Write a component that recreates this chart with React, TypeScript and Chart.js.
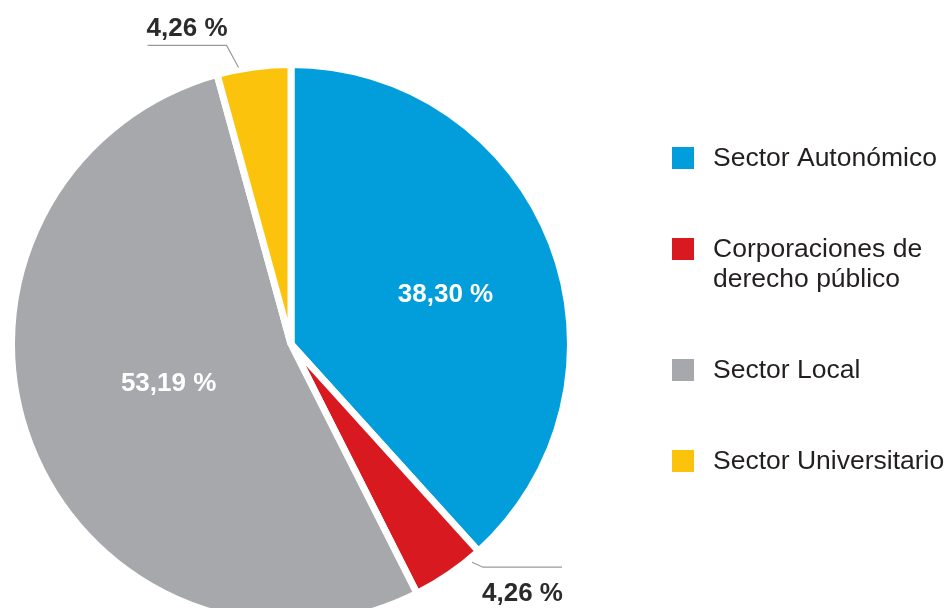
import React, { useEffect, useRef } from "react";
import { Chart, registerables } from "chart.js";

Chart.register(...registerables);

// ---- data ----
const categories = [
  "Sector Autonómico",
  "Corporaciones de derecho público",
  "Sector Local",
  "Sector Universitario",
];
const legendLines = [
  ["Sector Autonómico"],
  ["Corporaciones de", "derecho público"],
  ["Sector Local"],
  ["Sector Universitario"],
];
const values = [38.3, 4.26, 53.19, 4.26];
const valueLabels = ["38,30 %", "4,26 %", "53,19 %", "4,26 %"];
const colors = ["#029DDB", "#D8191F", "#A7A8AB", "#FCC30C"];

// ---- label placement (style) ----
type Place =
  | { kind: "inside"; frac: number; radial: number }
  | { kind: "outside"; frac: number; gap: number; elbowDx: number; elbowDy: number; run: number; textDy: number };
const placements: Place[] = [
  { kind: "inside", frac: 0.525, radial: 0.58 },
  { kind: "outside", frac: 0.16, gap: 4, elbowDx: 11, elbowDy: 5, run: 79, textDy: 27 },
  { kind: "inside", frac: 0.517, radial: 0.46 },
  { kind: "outside", frac: 0.3, gap: 2, elbowDx: -12, elbowDy: -22, run: -79, textDy: -17 },
];

const FONT = "'Liberation Sans', Arial, Helvetica, sans-serif";

const labelsPlugin = {
  id: "customLabels",
  afterDatasetsDraw(chart: any) {
    const ctx = chart.ctx as CanvasRenderingContext2D;
    const meta = chart.getDatasetMeta(0);
    ctx.save();
    meta.data.forEach((arc: any, i: number) => {
      const p = placements[i];
      const { x, y, startAngle, endAngle, outerRadius } = arc.getProps(
        ["x", "y", "startAngle", "endAngle", "outerRadius"],
        true
      );
      const a = startAngle + p.frac * (endAngle - startAngle);
      ctx.font = `bold 26px ${FONT}`;
      ctx.textAlign = "center";
      ctx.textBaseline = "middle";
      if (p.kind === "inside") {
        const r = outerRadius * p.radial;
        ctx.fillStyle = "#ffffff";
        ctx.fillText(valueLabels[i], x + Math.cos(a) * r, y + Math.sin(a) * r);
      } else {
        const r = outerRadius + p.gap;
        const sx = x + Math.cos(a) * r;
        const sy = y + Math.sin(a) * r;
        const ex = sx + p.elbowDx;
        const ey = sy + p.elbowDy;
        const hx = ex + p.run;
        ctx.strokeStyle = "#9a9a9a";
        ctx.lineWidth = 1.2;
        ctx.beginPath();
        ctx.moveTo(sx, sy);
        ctx.lineTo(ex, ey);
        ctx.lineTo(hx, ey);
        ctx.stroke();
        ctx.fillStyle = "#2b2b2b";
        ctx.fillText(valueLabels[i], (ex + hx) / 2, ey + p.textDy);
      }
    });

    // legend
    const boxX = 672;
    const box = 22;
    const textX = 713;
    const linePitch = 30;
    const itemGap = 91;
    let cy = 158;
    ctx.font = `26.5px ${FONT}`;
    ctx.textAlign = "left";
    ctx.textBaseline = "middle";
    legendLines.forEach((lines, i) => {
      ctx.fillStyle = colors[i];
      ctx.fillRect(boxX, cy - box / 2, box, box);
      ctx.fillStyle = "#231f20";
      lines.forEach((ln, j) => {
        ctx.fillText(ln, textX, cy + 1 + j * linePitch);
      });
      cy += (lines.length - 1) * linePitch + itemGap;
    });
    ctx.restore();
  },
};

export default function App() {
  const ref = useRef<HTMLCanvasElement | null>(null);
  useEffect(() => {
    if (!ref.current) return;
    const chart = new Chart(ref.current, {
      type: "pie",
      data: {
        labels: categories,
        datasets: [
          {
            data: values,
            backgroundColor: colors,
            borderColor: "#ffffff",
            borderWidth: 7,
            radius: 279.5,
            clip: false,
          } as any,
        ],
      },
      options: {
        responsive: false,
        animation: false,
        layout: { padding: { top: 80, right: 366, left: 0, bottom: 0 } },
        plugins: {
          legend: { display: false },
          tooltip: { enabled: false },
        },
      } as any,
      plugins: [labelsPlugin],
    });
    return () => chart.destroy();
  }, []);
  return (
    <div style={{ position: "absolute", left: 0, top: 0, width: 948, height: 608, background: "#fff" }}>
      <canvas ref={ref} width={948} height={608} style={{ display: "block" }} />
    </div>
  );
}
